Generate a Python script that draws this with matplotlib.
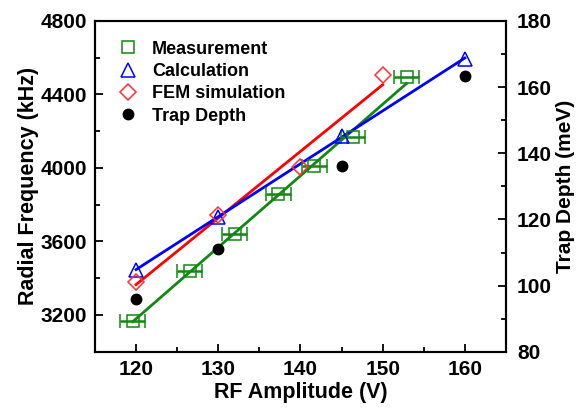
import numpy as np
import matplotlib
matplotlib.use("Agg")
import matplotlib.pyplot as plt
from matplotlib.lines import Line2D

plt.rcParams['font.family'] = ['Liberation Sans', 'DejaVu Sans']
plt.rcParams['font.weight'] = 'bold'

# Data
meas_x = [119.6, 126.5, 132.0, 137.3, 141.7, 146.4, 152.9]
meas_y = [3170, 3440, 3640, 3860, 4010, 4170, 4495]
meas_xerr = [1.5, 1.5, 1.5, 1.5, 1.5, 1.5, 1.5]

calc_x = [120, 130, 145, 160]
calc_y = [3445, 3735, 4173, 4595]

fem_x = [120, 130, 140, 150]
fem_y = [3382, 3746, 4005, 4504]

trap_x = [120, 130, 145, 160]
trap_y = [96.0, 111.0, 136.1, 163.5]

green = '#118811'
blue = '#0000ff'
red = '#ff0000'

fig = plt.figure(figsize=(5.82, 4.09), dpi=100)
ax = fig.add_axes([0.1632, 0.140, 0.7062, 0.8087])
ax2 = ax.twinx()

# fit lines
def fitline(xs, ys, color):
    p = np.polyfit(xs, ys, 1)
    xx = np.array([min(xs), max(xs)])
    ax.plot(xx, np.polyval(p, xx), color=color, lw=2, zorder=2)

fitline(fem_x, fem_y, red)
fitline(meas_x, meas_y, green)
fitline(calc_x, calc_y, blue)

ax.errorbar(meas_x, meas_y, xerr=meas_xerr, fmt='s', mfc='none', mec=green,
            ms=8, mew=1.1, ecolor=green, elinewidth=1.8, capsize=5, capthick=1.8, zorder=3)
ax.plot(calc_x, calc_y, '^', mfc='none', mec=blue, ms=10.5, mew=1.1, zorder=4)
ax.plot(fem_x, fem_y, 'D', mfc='none', mec='#ff3030', ms=8.5, mew=1.1, zorder=4)
ax2.plot(trap_x, trap_y, 'o', color='black', ms=7.5, zorder=4)

ax.set_xlim(115, 165)
ax.set_ylim(3000, 4800)
ax2.set_ylim(80, 180)

ax.set_xticks([120, 130, 140, 150, 160])
ax.set_xticks(np.arange(115, 166, 5), minor=True)
ax.set_yticks([3200, 3600, 4000, 4400, 4800])
ax.set_yticks(np.arange(3000, 4801, 200), minor=True)
ax2.set_yticks([80, 100, 120, 140, 160, 180])
ax2.set_yticks(np.arange(80, 181, 10), minor=True)

for a in (ax, ax2):
    a.tick_params(which='both', direction='in', width=1.3, labelsize=15, pad=6)
    a.tick_params(which='major', length=6)
    a.tick_params(which='minor', length=3.5)
    for s in a.spines.values():
        s.set_linewidth(1.5)
ax.tick_params(axis='y', which='both', right=False)
ax.tick_params(axis='x', which='both', top=False)
ax2.tick_params(axis='y', which='both', left=False, right=True, pad=8)

for lab in ax.get_xticklabels() + ax.get_yticklabels() + ax2.get_yticklabels():
    lab.set_fontweight('bold')

ax.set_xlabel('RF Amplitude (V)', fontsize=15.5, fontweight='bold', labelpad=2)
ax.set_ylabel('Radial Frequency (kHz)', fontsize=15.5, fontweight='bold', labelpad=1)
ax2.set_ylabel('Trap Depth (meV)', fontsize=15, fontweight='bold', labelpad=3)

handles = [
    Line2D([], [], ls='none', marker='s', mfc='none', mec=green, ms=8, mew=1.1),
    Line2D([], [], ls='none', marker='^', mfc='none', mec=blue, ms=10.5, mew=1.1),
    Line2D([], [], ls='none', marker='D', mfc='none', mec='#ff3030', ms=8.5, mew=1.1),
    Line2D([], [], ls='none', marker='o', color='black', ms=7.5),
]
labels = ['Measurement', 'Calculation', 'FEM simulation', 'Trap Depth']
leg = ax.legend(handles, labels, loc='upper left', frameon=False,
                prop={'size': 13, 'weight': 'bold'}, handlelength=1.0,
                handletextpad=0.8, labelspacing=0.3,
                bbox_to_anchor=(0.02, 0.99))

fig.savefig('out.png', dpi=100)
